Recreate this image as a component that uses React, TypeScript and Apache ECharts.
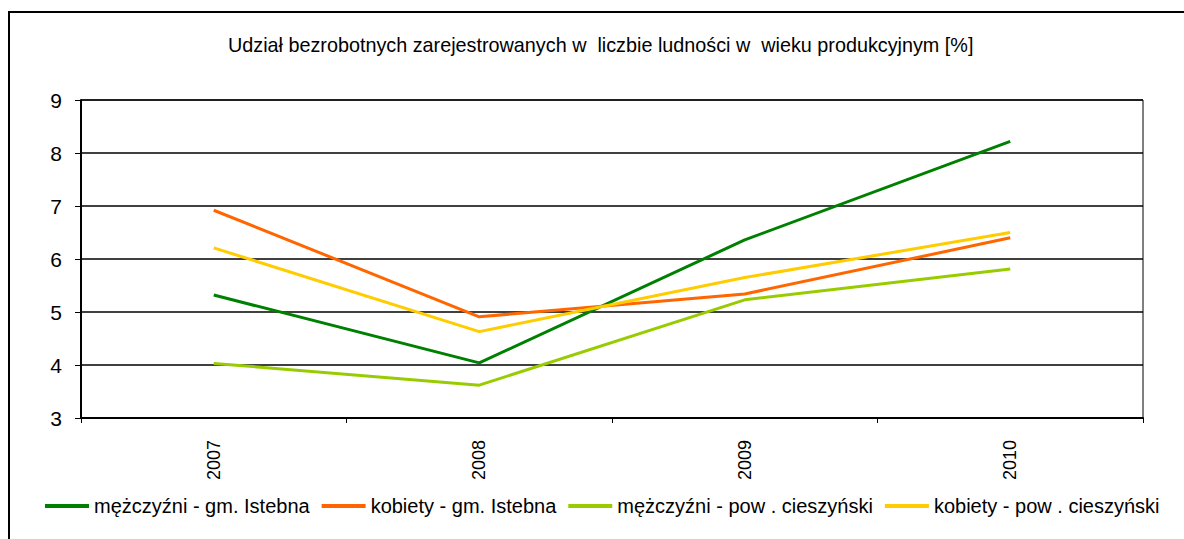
import React, { useEffect, useRef } from "react";
import * as echarts from "echarts";

const years = ["2007", "2008", "2009", "2010"];
const menIstebna = [5.32, 4.04, 6.36, 8.22];
const womenIstebna = [6.92, 4.91, 5.34, 6.4];
const menPowiat = [4.03, 3.62, 5.23, 5.81];
const womenPowiat = [6.21, 4.63, 5.65, 6.5];
const seriesNames = [
  "mężczyźni - gm. Istebna",
  "kobiety - gm. Istebna",
  "mężczyźni - pow . cieszyński",
  "kobiety - pow . cieszyński",
];
const seriesColors = ["#008000", "#FF6600", "#99CC00", "#FFCC00"];
const titleText =
  "Udział bezrobotnych zarejestrowanych w  liczbie ludności w  wieku produkcyjnym [%]";

const FONT = "'Liberation Sans', Arial, sans-serif";

export default function App() {
  const ref = useRef<HTMLDivElement>(null);
  useEffect(() => {
    if (!ref.current) return;
    const chart = echarts.init(ref.current, null, { renderer: "svg" });
    const datasets = [menIstebna, womenIstebna, menPowiat, womenPowiat];
    chart.setOption({
      animation: false,
      backgroundColor: "#ffffff",
      textStyle: { fontFamily: FONT, color: "#000" },
      title: {
        text: titleText,
        left: 228,
        top: 35,
        padding: 0,
        textStyle: {
          fontFamily: FONT,
          fontSize: 19.8,
          fontWeight: "normal",
          color: "#000",
        },
      },
      graphic: [
        {
          type: "rect",
          shape: { x: 9, y: 12, width: 1300, height: 700 },
          style: { fill: "none", stroke: "#000", lineWidth: 2 },
          silent: true,
        },
      ],
      legend: {
        bottom: 18,
        left: 40,
        icon: "rect",
        itemWidth: 44,
        itemHeight: 4,
        itemGap: 12,
        textStyle: { fontFamily: FONT, fontSize: 20, color: "#000" },
        data: seriesNames,
      },
      grid: {
        left: 81,
        right: 41,
        top: 100,
        bottom: 121,
        show: true,
        borderColor: "#000",
        borderWidth: 1,
        backgroundColor: "transparent",
      },
      xAxis: {
        type: "category",
        data: years,
        boundaryGap: true,
        axisLine: { lineStyle: { color: "#000", width: 2 } },
        axisTick: { show: true, length: 5, lineStyle: { color: "#000" } },
        axisLabel: {
          rotate: 90,
          margin: 22,
          fontSize: 18,
          fontFamily: FONT,
          color: "#000",
        },
      },
      yAxis: {
        type: "value",
        min: 3,
        max: 9,
        interval: 1,
        axisLine: { show: true, lineStyle: { color: "#000", width: 2 } },
        axisTick: { show: true, length: 6, lineStyle: { color: "#000" } },
        axisLabel: { margin: 19, fontSize: 21, fontFamily: FONT, color: "#000" },
        splitLine: { show: true, lineStyle: { color: "#000", width: 1.5 } },
      },
      series: datasets.map((d, i) => ({
        name: seriesNames[i],
        type: "line",
        data: d,
        symbol: "none",
        color: seriesColors[i],
        lineStyle: { width: 3, color: seriesColors[i] },
      })),
    });
    return () => chart.dispose();
  }, []);
  return (
    <div
      ref={ref}
      style={{ position: "fixed", left: 0, top: 0, width: 1184, height: 539 }}
    />
  );
}
